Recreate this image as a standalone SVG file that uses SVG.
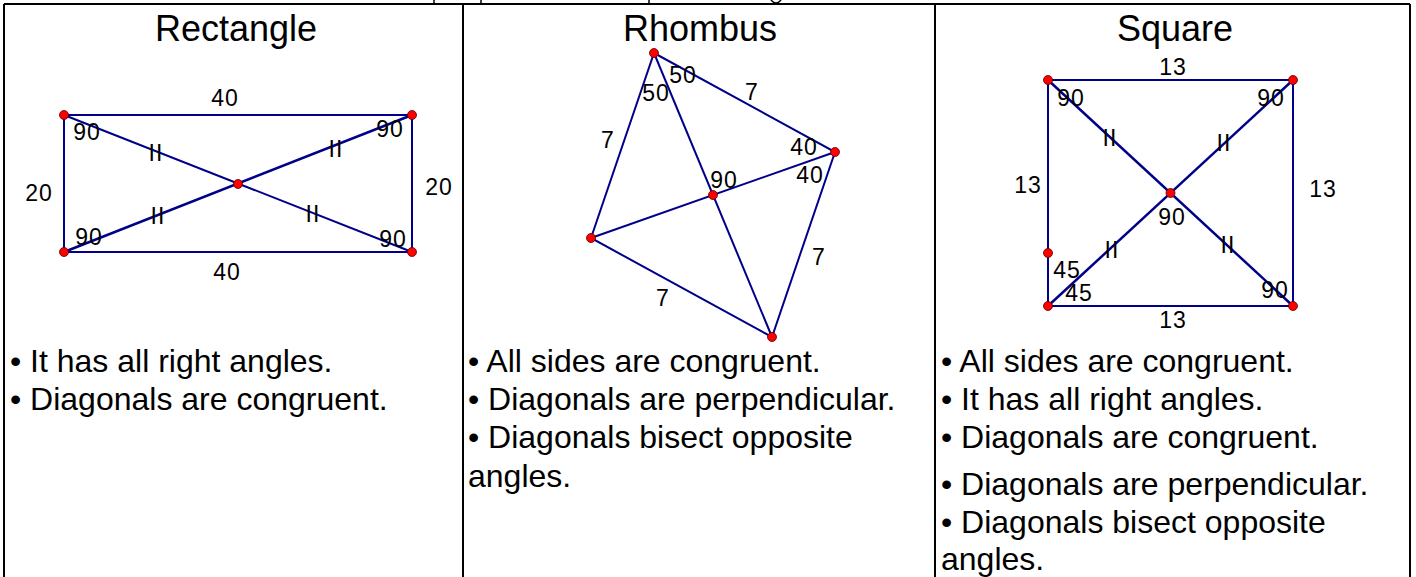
<svg xmlns="http://www.w3.org/2000/svg" width="1416" height="577" viewBox="0 0 1416 577">
<style>
.frame{stroke:#000;stroke-width:2;fill:none}
.frag{stroke:#000;stroke-width:1.5;fill:none}
.edge{stroke:#000088;stroke-width:2;fill:none}
.pt{fill:#ff0000;stroke:#550000;stroke-width:0.8}
.head{font-family:"Liberation Sans",Arial,sans-serif;font-size:36px;fill:#000;text-anchor:middle}
.lbl{font-family:"Liberation Sans",Arial,sans-serif;font-size:23px;fill:#000;text-anchor:middle;letter-spacing:1px}
.bul{font-family:"Liberation Sans",Arial,sans-serif;font-size:32px;fill:#000}
</style>
<rect width="1416" height="577" fill="#fff"/>
<g id="frame">
<line class="frame" x1="4" y1="4" x2="1410" y2="4"/>
<line class="frame" x1="4" y1="4" x2="4" y2="577"/>
<line class="frame" x1="463" y1="4" x2="463" y2="577"/>
<line class="frame" x1="935" y1="4" x2="935" y2="577"/>
<line class="frame" x1="1410" y1="4" x2="1410" y2="577"/>
<line class="frag" x1="434" y1="0" x2="434" y2="4"/>
<line class="frag" x1="481" y1="0" x2="481" y2="4"/>
<line class="frag" x1="649" y1="0" x2="649" y2="4"/>
<path class="frag" d="M771,0 Q776,6 781,0"/>
</g>
<g id="headings">
<text class="head" x="236" y="41">Rectangle</text>
<text class="head" x="700" y="41">Rhombus</text>
<text class="head" x="1175" y="41">Square</text>
</g>
<g id="connectors">
<g id="rect-edges">
<polygon class="edge" points="64,115 412,115 412,252 64,252"/>
<line class="edge" x1="64" y1="115" x2="412" y2="252"/>
<line class="edge" x1="64" y1="252" x2="412" y2="115" style="stroke-width:2.5"/>
</g>
<g id="rhombus-edges">
<polygon class="edge" points="654,53 835,152 772,337 591,238"/>
<line class="edge" x1="654" y1="53" x2="772" y2="337"/>
<line class="edge" x1="591" y1="238" x2="835" y2="152"/>
</g>
<g id="square-edges">
<polygon class="edge" points="1048,80 1293,80 1293,306 1048,306"/>
<line class="edge" x1="1048" y1="80" x2="1293" y2="306" style="stroke-width:2.5"/>
<line class="edge" x1="1048" y1="306" x2="1293" y2="80" style="stroke-width:2.5"/>
</g>
</g>
<g id="rectangle">
<circle class="pt" cx="64" cy="115" r="4.5"/>
<circle class="pt" cx="412" cy="115" r="4.5"/>
<circle class="pt" cx="64" cy="252" r="4.5"/>
<circle class="pt" cx="412" cy="252" r="4.5"/>
<circle class="pt" cx="238" cy="184" r="4.5"/>
<text class="lbl" x="225" y="106">40</text>
<text class="lbl" x="39" y="201">20</text>
<text class="lbl" x="439" y="195">20</text>
<text class="lbl" x="227" y="280">40</text>
<text class="lbl" x="87" y="140">90</text>
<text class="lbl" x="390" y="137">90</text>
<text class="lbl" x="89" y="245">90</text>
<text class="lbl" x="393" y="247">90</text>
<text class="lbl" x="156" y="161">II</text>
<text class="lbl" x="336" y="157">II</text>
<text class="lbl" x="158" y="224">II</text>
<text class="lbl" x="313" y="222">II</text>
</g>
<g id="rhombus">
<circle class="pt" cx="654" cy="53" r="4.5"/>
<circle class="pt" cx="835" cy="152" r="4.5"/>
<circle class="pt" cx="772" cy="337" r="4.5"/>
<circle class="pt" cx="591" cy="238" r="4.5"/>
<circle class="pt" cx="713" cy="195" r="4.5"/>
<text class="lbl" x="683" y="83">50</text>
<text class="lbl" x="656" y="101">50</text>
<text class="lbl" x="752" y="100">7</text>
<text class="lbl" x="608" y="148">7</text>
<text class="lbl" x="804" y="155">40</text>
<text class="lbl" x="810" y="183">40</text>
<text class="lbl" x="724" y="188">90</text>
<text class="lbl" x="819" y="265">7</text>
<text class="lbl" x="663" y="306">7</text>
</g>
<g id="square">
<circle class="pt" cx="1048" cy="80" r="4.5"/>
<circle class="pt" cx="1293" cy="80" r="4.5"/>
<circle class="pt" cx="1048" cy="306" r="4.5"/>
<circle class="pt" cx="1293" cy="306" r="4.5"/>
<circle class="pt" cx="1170.5" cy="193" r="4.5"/>
<circle class="pt" cx="1048" cy="253" r="4.5"/>
<text class="lbl" x="1173" y="75">13</text>
<text class="lbl" x="1028" y="193">13</text>
<text class="lbl" x="1323" y="197">13</text>
<text class="lbl" x="1173" y="328">13</text>
<text class="lbl" x="1071" y="106">90</text>
<text class="lbl" x="1271" y="106">90</text>
<text class="lbl" x="1172" y="225">90</text>
<text class="lbl" x="1275" y="298">90</text>
<text class="lbl" x="1067" y="278">45</text>
<text class="lbl" x="1079" y="301">45</text>
<text class="lbl" x="1110" y="146">II</text>
<text class="lbl" x="1224" y="151">II</text>
<text class="lbl" x="1112" y="258">II</text>
<text class="lbl" x="1228" y="253">II</text>
</g>
<g id="rectangle-props">
<text class="bul" x="10" y="372">• It has all right angles.</text>
<text class="bul" x="10" y="410">• Diagonals are congruent.</text>
</g>
<g id="rhombus-props">
<text class="bul" x="468" y="372">• All sides are congruent.</text>
<text class="bul" x="468" y="410">• Diagonals are perpendicular.</text>
<text class="bul" x="468" y="448">• Diagonals bisect opposite</text>
<text class="bul" x="468" y="487">angles.</text>
</g>
<g id="square-props">
<text class="bul" x="941" y="372">• All sides are congruent.</text>
<text class="bul" x="941" y="410">• It has all right angles.</text>
<text class="bul" x="941" y="448">• Diagonals are congruent.</text>
<text class="bul" x="941" y="495">• Diagonals are perpendicular.</text>
<text class="bul" x="941" y="533">• Diagonals bisect opposite</text>
<text class="bul" x="941" y="570">angles.</text>
</g>
</svg>
